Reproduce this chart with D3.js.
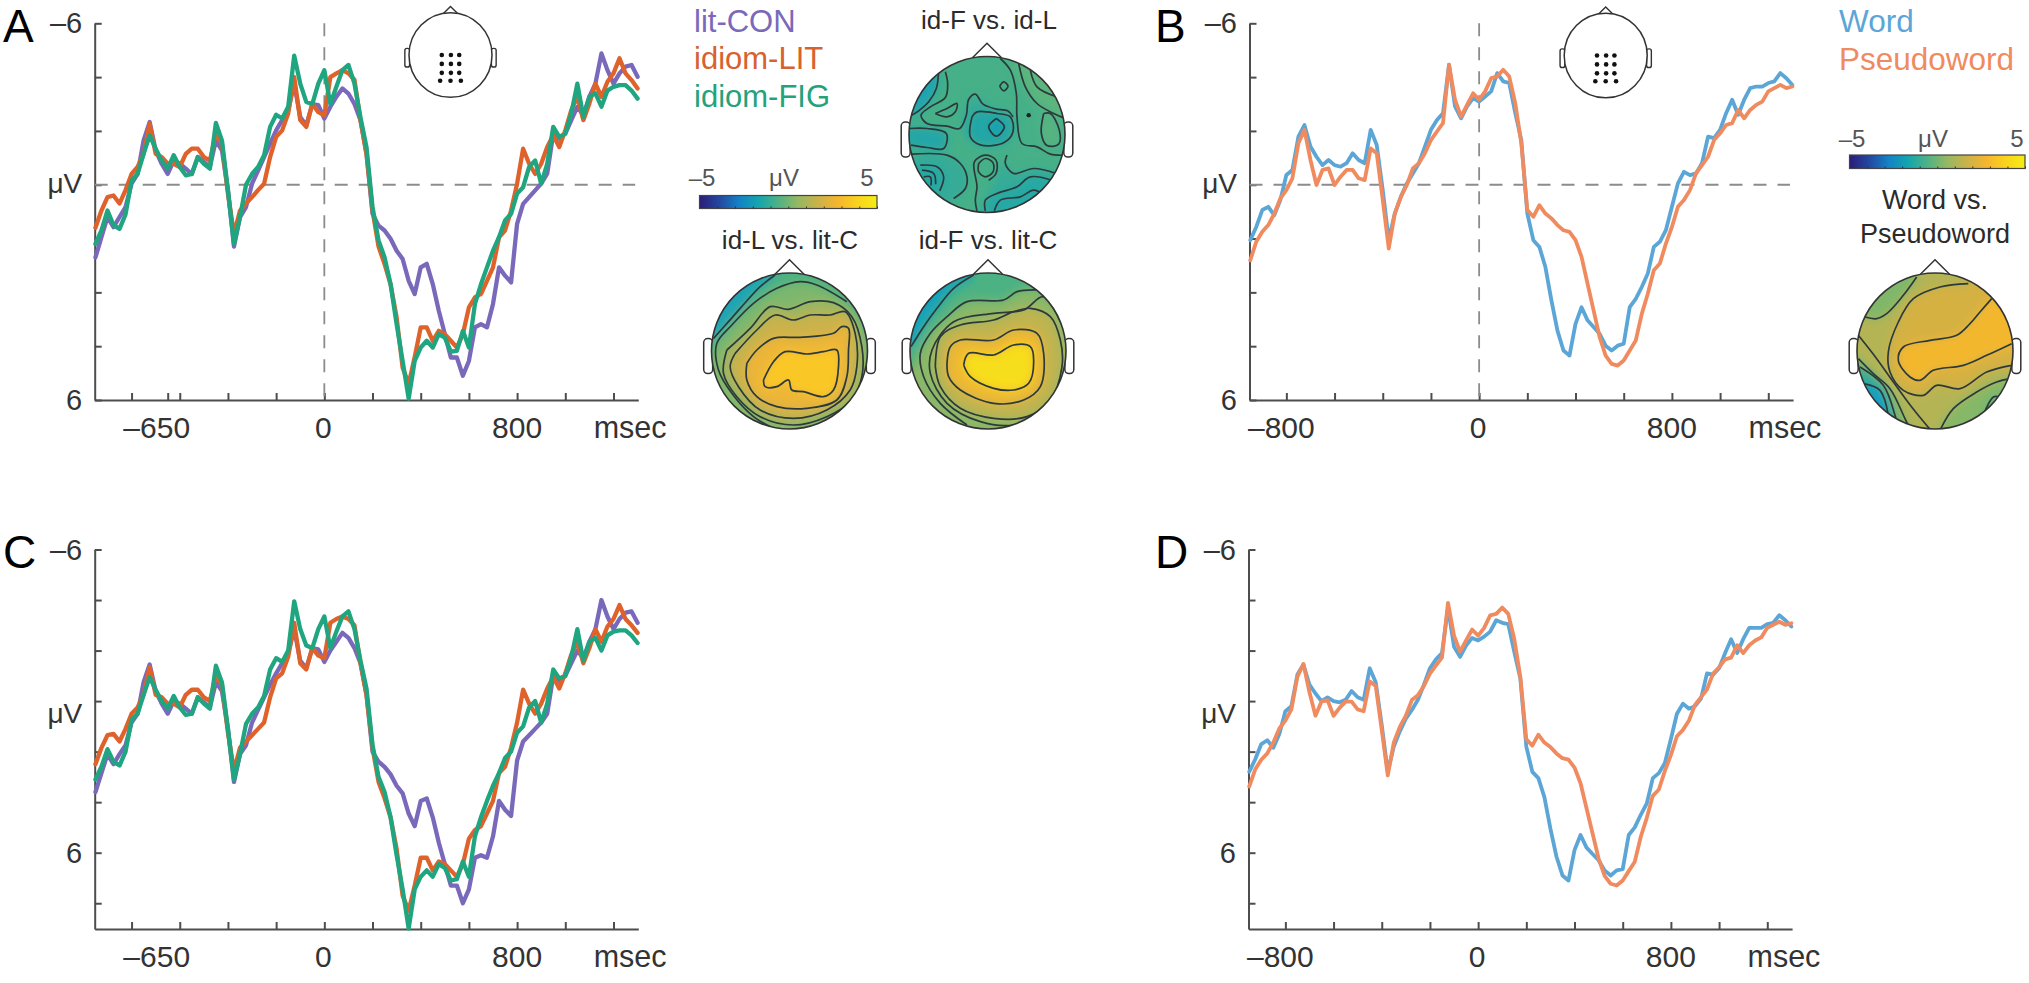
<!DOCTYPE html>
<html><head><meta charset="utf-8">
<style>html,body{margin:0;padding:0;background:#fff}svg{display:block}text{font-family:"Liberation Sans",Arial,sans-serif}</style>
<script src="https://cdn.jsdelivr.net/npm/d3@7/dist/d3.min.js"></script></head>
<body><svg id="c" width="2029" height="983"></svg>
<script>
// ---------- sampling times (msec) ----------
const times=[-950,-925,-900,-875,-850,-825,-800,-775,-750,-725,-700,-675,-650,-625,-600,-575,-550,-525,-500,-475,-450,-425,-400,-375,-350,-325,-300,-275,-250,-225,-200,-175,-150,-125,-100,-75,-50,-25,0,25,50,75,100,125,150,175,200,225,250,275,300,325,350,375,400,425,450,475,500,525,550,575,600,625,650,675,700,725,750,775,800,825,850,875,900,925,950,975,1000,1025,1050,1075,1100,1125,1150,1175,1200,1225,1250,1275,1300];
// ---------- panel A (μV) ----------
const A_litCON=[2.7,1.95,1.2,1.58,1.2,.83,-.04,-.4,-1.65,-2.33,-1.28,-.78,-.4,-.9,-.78,-.6,-.4,-1.03,-.85,-.66,-1.65,-1.28,.21,2.3,1.2,.83,-.04,-.53,-1.03,-1.53,-2.02,-2.4,-2.77,-3.76,-2.52,-2.2,-3,-2.96,-2.46,-2.9,-3.27,-3.58,-3.39,-3,-2.4,-1.15,1.08,1.52,1.7,2.01,2.45,2.76,3.57,4.06,3.07,2.94,3.69,4.68,5.55,6.42,6.42,7.1,6.55,5.3,5.18,5.3,4.43,3.07,3.38,3.63,1.45,.71,.46,.21,-.04,-.41,-1.9,-1.71,-1.9,-2.4,-2.89,-2.58,-3.27,-3.76,-4.88,-4.26,-3.76,-4.14,-4.39,-4.45,-4.01];
const A_idiomLIT=[1.6,.96,.46,.4,.7,.2,-.4,-.66,-1.15,-2.27,-1.15,-1.03,-.78,-.78,-.66,-1.15,-1.34,-1.34,-1.03,-.9,-1.9,-1.53,.33,1.83,.96,.7,.46,.2,-.04,-1.03,-1.78,-2.02,-2.65,-4,-2.4,-2.15,-3,-2.7,-2.58,-4,-4.14,-4.26,-4.14,-3.9,-2.4,-1.15,.96,2.3,2.95,3.7,4.93,6.8,7.4,6.4,5.3,5.3,5.8,5.43,5.55,5.8,6.05,5.55,4.56,4.19,4.06,3.57,3.07,1.95,1.7,.96,-.04,-1.34,-.78,-.4,-.78,-1.4,-1.84,-1.4,-2.02,-2.77,-3.27,-2.4,-3.02,-3.76,-3.27,-3.83,-4.14,-4.7,-4.14,-3.89,-3.58];
const A_idiomFIG=[2.2,1.7,.96,1.5,1.64,1.1,-.16,-.4,-1.15,-1.84,-1.34,-.9,-.6,-1.1,-.66,-.35,-.4,-1.03,-.78,-.6,-2.3,-1.65,.2,2.2,1.2,0,-.4,-.66,-1.1,-2.15,-2.6,-2.46,-2.9,-4.8,-3.76,-3.08,-3,-3.76,-4.26,-3,-3.64,-4.26,-4.45,-3.76,-2.5,-1.4,.83,2.07,2.7,3.7,5.18,6.55,7.95,6.55,6.05,5.8,6.05,5.55,5.68,6.2,6.17,5.43,6.05,4.43,3.7,3.07,2.45,1.95,1.33,1.08,.33,.09,-.66,-.9,-.04,-.78,-2.15,-1.78,-1.9,-2.65,-3.76,-2.52,-3.27,-3.4,-2.9,-3.5,-3.64,-3.7,-3.7,-3.5,-3.2];
// ---------- panel B (μV) ----------
const B_word=[2.06,1.57,.94,.82,1.13,.57,-.36,-.55,-1.79,-2.22,-1.42,-1.04,-.73,-.92,-.73,-.67,-.8,-1.17,-.92,-.8,-2.04,-1.48,.2,2.06,1.07,.45,-.05,-.42,-.8,-1.42,-2.04,-2.41,-2.66,-4.46,-2.91,-2.47,-2.91,-3.22,-3.09,-3.28,-3.47,-4.15,-3.84,-3.78,-2.66,-1.66,1.07,2.06,2.31,3.06,4.3,5.42,6.16,6.35,5.17,4.55,5.04,5.29,5.54,5.98,6.16,5.98,5.91,4.55,4.24,3.8,3.3,2.31,2.12,1.69,.82,-.05,-.48,-.36,-.42,-.8,-1.79,-1.73,-2.04,-2.66,-3.16,-2.6,-3.16,-3.59,-3.65,-3.65,-3.78,-3.84,-4.15,-3.96,-3.71];
const B_pseudoword=[2.81,2.12,1.75,1.5,1.07,.51,.2,-.24,-1.54,-2.04,-.92,.01,-.55,-.61,.01,-.3,-.55,-.55,-.24,-.17,-1.35,-1.17,.57,2.37,1.07,.45,.01,-.61,-.8,-1.17,-1.66,-1.98,-2.29,-4.46,-3.16,-2.53,-2.97,-3.4,-3.16,-3.47,-3.96,-4.02,-4.27,-4.02,-3.03,-1.54,.94,1.19,.76,1.07,1.25,1.5,1.69,1.75,2.06,2.68,3.68,4.67,5.66,6.35,6.66,6.72,6.53,6.16,5.79,4.8,4.05,3.18,2.93,2.19,1.57,.82,.57,.2,-.42,-.73,-1.04,-1.66,-1.91,-2.22,-2.29,-2.78,-2.47,-2.78,-2.97,-3.09,-3.47,-3.59,-3.71,-3.59,-3.65];
// ---------- panel C (μV) ----------
const C_litCON=[3.6,2.85,2.1,2.5,2.1,1.75,.85,.5,-.75,-1.45,-.4,.1,.5,0,.1,.3,.5,-.15,.05,.25,-.75,-.4,1.1,3.2,2.1,1.75,.85,.35,-.15,-.65,-1.1,-1.5,-1.9,-2.85,-1.6,-1.3,-2.1,-2.05,-1.55,-2,-2.35,-2.7,-2.5,-2.1,-1.5,-.25,2,2.4,2.6,2.9,3.35,3.65,4.45,4.95,3.95,3.85,4.6,5.6,6.45,7.3,7.3,8,7.45,6.2,6.1,6.2,5.35,3.95,4.3,4.55,2.35,1.6,1.35,1.1,.85,.5,-1,-.8,-1,-1.5,-2,-1.7,-2.35,-2.85,-4,-3.35,-2.85,-3.25,-3.5,-3.55,-3.1];
const C_idiomLIT=[2.5,1.85,1.35,1.3,1.6,1.1,.5,.25,-.25,-1.35,-.25,-.15,.1,.1,.25,-.25,-.45,-.45,-.15,0,-1,-.65,1.25,2.75,1.85,1.6,1.35,1.1,.85,-.15,-.9,-1.1,-1.75,-3.1,-1.5,-1.25,-2.1,-1.8,-1.7,-3.1,-3.25,-3.35,-3.25,-3,-1.5,-.25,1.85,3.2,3.85,4.6,5.85,7.7,8.3,7.3,6.2,6.2,6.7,6.35,6.45,6.7,6.95,6.45,5.45,5.1,4.95,4.45,3.95,2.85,2.6,1.85,.85,-.45,.1,.5,.1,-.5,-.95,-.5,-1.1,-1.85,-2.35,-1.5,-2.1,-2.85,-2.35,-2.95,-3.25,-3.8,-3.25,-3,-2.7];
const C_idiomFIG=[3.1,2.6,1.9,2.4,2.55,2,.75,.5,-.25,-.95,-.45,0,.3,-.2,.25,.55,.5,-.15,.1,.3,-1.4,-.75,1.1,3.1,2.1,.9,.5,.25,-.2,-1.25,-1.7,-1.55,-2,-3.95,-2.85,-2.2,-2.1,-2.85,-3.35,-2.1,-2.75,-3.35,-3.55,-2.85,-1.6,-.5,1.73,3,3.6,4.6,6.1,7.45,9,7.45,6.95,6.7,6.95,6.45,6.6,7.1,7.05,6.35,6.95,5.35,4.6,3.95,3.35,2.85,2.25,2,1.25,1,.25,0,.85,.1,-1.25,-.9,-1,-1.75,-2.85,-1.6,-2.35,-2.5,-2,-2.6,-2.75,-2.8,-2.8,-2.6,-2.3];
// ---------- panel D (μV) ----------
const D_word=[2.8,2.3,1.7,1.55,1.85,1.3,.4,.2,-1.05,-1.45,-.65,-.3,0,-.15,0,.05,-.05,-.4,-.15,-.05,-1.3,-.75,.95,2.8,1.8,1.2,.7,.35,-.05,-.65,-1.3,-1.65,-1.9,-3.7,-2.15,-1.75,-2.2,-2.5,-2.4,-2.55,-2.75,-3.2,-3.1,-3.05,-1.95,-.9,1.8,2.8,3.05,3.8,5.05,6.15,6.9,7.1,5.9,5.3,5.8,6.05,6.3,6.7,6.9,6.7,6.65,5.3,5,4.5,4.05,3.05,2.85,2.45,1.5,.5,.1,.3,.2,-.1,-1.1,-1.05,-1.3,-1.9,-2.45,-1.9,-2.45,-2.9,-2.9,-2.9,-3.05,-3.1,-3.4,-3.2,-2.95];
const D_pseudoword=[3.38,2.7,2.32,2.07,1.64,1.08,.77,.33,-.97,-1.47,-.35,.58,.02,-.04,.58,.27,.02,.02,.33,.4,-.78,-.6,1.14,2.94,1.64,1.02,.58,-.04,-.23,-.6,-1.09,-1.41,-1.72,-3.89,-2.59,-1.96,-2.4,-2.83,-2.59,-2.9,-3.39,-3.45,-3.7,-3.45,-2.46,-.97,1.51,1.76,1.33,1.64,1.82,2.07,2.26,2.32,2.63,3.25,4.25,5.24,6.23,6.92,7.23,7.3,7.1,6.73,6.36,5.37,4.62,3.75,3.5,2.76,2.14,1.39,1.14,.77,.15,-.16,-.47,-1.09,-1.34,-1.65,-1.72,-2.21,-1.9,-2.21,-2.4,-2.52,-2.9,-3.02,-3.14,-3.02,-3.08];
// ---------- ticks ----------
const xTicks=[-800,-600,-400,-200,0,200,400,600,800,1000,1200];
const yTicks=[-6,-4,-2,0,2,4,6,8];
// ---------- colours ----------
const colCON="#7a69bb",colLIT="#e0622b",colFIG="#1fa57f",colWord="#5ba6d6",colPseudo="#f08a5f";
const axisCol="#4d4d4d",textCol="#333",dashCol="#8c8c8c";
// ---------- colour bar ----------
const barStops=["#2a1d78","#24479f","#1382c6","#14a5ae","#4fb285","#95b863","#c9b24a","#f5b52e","#f9d21e","#f6ee12"];
// ---------- electrode montage (head-space, r = 1) ----------
const sensors=[[-.21,0],[.01,0],[.21,0],[-.21,.215],[.01,.215],[.21,.215],[-.21,.43],[.01,.43],[.21,.43],[-.25,.62],[0,.62],[.25,.62]];
// ---------- topographic contours, head-space units (radius 234, head centre given per map) ----------
const topFills=[
 ["#1aa3b4",[[830,225],[826,272],[800,310],[770,335],[745,350],[700,300],[780,180]]],
 ["#22a6a8",[[748,385],[800,385],[858,400],[850,445],[748,435],[700,410]]],
 ["#34ab98",[[945,290],[1000,325],[1050,335],[1065,380],[1040,430],[1000,440],[940,430],[905,385],[920,320]]],
 ["#22a6a6",[[935,350],[950,335],[1010,340],[1045,360],[1050,400],[1030,425],[960,432],[930,410]]],
 ["#18a3b2",[[1008,355],[1032,380],[1008,405],[985,380]]],
 ["#34ab98",[[760,465],[860,465],[900,490],[920,530],[915,565],[880,600],[760,640],[700,520]]],
 ["#26a8a4",[[780,495],[830,500],[850,530],[840,570],[780,590],[740,540]]],
 ["#34ab98",[[1040,470],[1035,490],[1060,520],[1120,505],[1190,520],[1260,560],[1100,700],[950,680],[975,600]]],
 ["#26a8a4",[[975,630],[975,600],[1010,580],[1070,560],[1110,530],[1180,540],[1230,600],[1100,690]]],
 ["#5cb57e",[[1060,180],[1095,260],[1130,310],[1180,340],[1230,355],[1260,200]]],
 ["#58b481",[[1150,340],[1170,340],[1195,390],[1195,430],[1160,435],[1143,400]]]
];
const topLines=[
 [[835,205],[828,265],[805,305],[775,332],[745,350]],
 [[855,215],[862,250],[855,292],[810,320],[782,345],[800,370],[860,378],[898,385],[918,345],[925,298],[945,282],[968,312],[1005,326],[1042,332],[1058,350]],
 [[935,350],[950,335],[1010,340],[1050,350],[1058,395],[1030,428],[960,434],[930,410],[935,350]],
 [[1008,355],[1032,380],[1008,408],[985,380],[1008,355]],
 [[1018,258],[1030,245],[1043,258],[1030,272],[1018,258]],
 [[825,340],[860,325],[890,310],[885,335],[860,350],[825,340]],
 [[1150,340],[1170,340],[1197,390],[1195,432],[1160,436],[1143,400],[1150,340]],
 [[1020,175],[1050,210],[1068,280],[1070,350],[1085,430],[1130,440],[1170,462],[1212,465]],
 [[1075,190],[1095,260],[1130,310],[1180,340],[1215,355]],
 [[1110,210],[1130,260],[1190,290]],
 [[748,385],[800,385],[858,400],[850,445],[800,442],[752,435]],
 [[752,462],[860,465],[900,490],[920,530],[915,565],[880,595]],
 [[780,495],[830,500],[850,530],[838,572]],
 [[785,510],[820,520],[826,552]],
 [[790,530],[810,530],[812,556]],
 [[955,490],[975,475],[998,488],[998,515],[975,530],[955,515],[955,490]],
 [[950,632],[945,600],[950,560],[942,485],[975,465],[1007,480],[1007,520],[985,540]],
 [[1040,465],[1035,490],[1060,520],[1120,505],[1188,520]],
 [[975,632],[975,600],[1010,580],[1070,560],[1110,530],[1180,542]],
 [[1002,632],[1020,600],[1080,590],[1120,570],[1152,585]]
];
const leftFills=[
 ["#1aa4b6",[[345,825],[300,860],[240,925],[205,965],[165,1010],[130,1000],[160,800]]],
 ["#7db76d",[[170,1030],[215,975],[280,910],[350,865],[420,845],[470,855],[550,900],[620,1000],[640,1200],[450,1320],[250,1290],[140,1100]]],
 ["#a3b55d",[[200,1050],[270,985],[330,920],[385,928],[450,905],[520,908],[575,950],[605,1040],[605,1130],[575,1200],[500,1240],[400,1275],[300,1250],[230,1190],[190,1120]]],
 ["#cbb24c",[[225,1060],[290,990],[345,945],[400,960],[450,945],[510,945],[555,935],[585,1000],[590,1100],[570,1170],[500,1230],[400,1255],[300,1230],[235,1160],[210,1100]]],
 ["#ecb537",[[260,1090],[290,1050],[340,1015],[420,1012],[520,1000],[545,980],[565,985],[565,1050],[560,1130],[530,1200],[440,1225],[350,1220],[290,1190],[260,1140]]],
 ["#fac826",[[310,1140],[340,1085],[375,1055],[440,1062],[490,1055],[530,1050],[535,1100],[520,1170],[490,1190],[430,1175],[395,1170],[385,1140],[350,1160],[315,1160]]]
];
const leftLines=[
 [[345,825],[300,860],[240,925],[205,965],[160,1015]],
 [[560,905],[470,855],[420,845],[350,865],[280,910],[215,975],[170,1030],[175,1110],[215,1180],[280,1250],[340,1285]],
 [[200,1050],[270,985],[330,920],[385,928],[450,905],[520,908],[575,950],[605,1040],[605,1130],[575,1200],[500,1250],[400,1275],[300,1250],[230,1190],[190,1120],[200,1050]],
 [[225,1060],[290,990],[345,945],[400,960],[450,945],[510,945],[555,935],[585,1000],[590,1100],[570,1170],[500,1230],[400,1255],[300,1230],[235,1160],[210,1100],[225,1060]],
 [[260,1090],[290,1050],[340,1015],[420,1012],[520,1000],[545,980],[565,985],[565,1050],[560,1130],[530,1200],[440,1225],[350,1220],[290,1190],[260,1140],[260,1090]],
 [[310,1140],[340,1085],[375,1055],[440,1062],[490,1055],[530,1050],[535,1100],[520,1170],[490,1190],[430,1175],[395,1170],[385,1140],[350,1160],[315,1160],[310,1140]]
];
const rightFills=[
 ["#14a2bb",[[940,825],[880,865],[830,925],[790,980],[752,1040],[720,1000],[800,780]]],
 ["#8ab868",[[770,1070],[810,1000],[860,950],[920,905],[1030,900],[1070,875],[1130,870],[1220,950],[1240,1200],[1050,1320],[850,1290],[740,1150]]],
 ["#c0b44f",[[825,1100],[840,1010],[900,975],[1000,960],[1060,935],[1110,925],[1170,950],[1200,1020],[1205,1100],[1170,1200],[1100,1250],[1000,1255],[900,1225],[840,1160]]],
 ["#eeb832",[[860,1090],[870,1040],[900,1020],[1000,1020],[1060,990],[1130,1000],[1150,1060],[1140,1160],[1090,1200],[1000,1210],[900,1170],[865,1130]]],
 ["#f7de1c",[[910,1095],[925,1060],[1000,1065],[1060,1035],[1110,1040],[1120,1080],[1105,1150],[1060,1170],[1000,1165],[930,1130]]]
];
const rightLines=[
 [[940,825],[880,865],[830,925],[790,980],[752,1040]],
 [[1130,870],[1070,875],[1030,900],[920,905],[860,950],[810,1000],[780,1060],[790,1130],[840,1210],[920,1275]],
 [[1215,1000],[1150,890],[1090,930],[1000,940],[880,965],[815,1050],[810,1120],[860,1210],[960,1265],[1060,1275],[1140,1240]],
 [[825,1100],[840,1010],[900,975],[1000,960],[1060,935],[1110,925],[1170,950],[1200,1020],[1205,1100],[1170,1200],[1100,1250],[1000,1255],[900,1225],[840,1160],[825,1100]],
 [[860,1090],[870,1040],[900,1020],[1000,1020],[1060,990],[1130,1000],[1150,1060],[1140,1160],[1090,1200],[1000,1210],[900,1170],[865,1130],[860,1090]],
 [[910,1095],[925,1060],[1000,1065],[1060,1035],[1110,1040],[1120,1080],[1105,1150],[1060,1170],[1000,1165],[930,1130],[910,1095]]
];
const wordFills=[
 ["#7fb76a",[[410,825],[370,880],[320,935],[290,950],[255,945],[200,900],[350,760]]],
 ["#d5b143",[[565,845],[480,855],[400,890],[355,960],[325,1050],[330,1110],[370,1165],[430,1180],[470,1150],[540,1160],[620,1110],[720,1085],[760,900],[640,780]]],
 ["#f3b72d",[[635,890],[600,930],[570,965],[530,1000],[450,1015],[370,1035],[355,1075],[390,1125],[420,1135],[460,1105],[550,1090],[620,1060],[720,1020],[760,900]]],
 ["#85b867",[[470,1320],[520,1220],[590,1170],[650,1140],[720,1125],[740,1300]]],
 ["#5db47b",[[600,1290],[610,1240],[640,1185],[680,1185],[700,1300]]],
 ["#7fb76a",[[220,1060],[280,1115],[330,1160],[375,1250],[400,1320],[200,1320]]],
 ["#36ad92",[[230,1095],[310,1150],[345,1240],[350,1320],[200,1320]]],
 ["#139fc0",[[250,1145],[300,1165],[325,1240],[310,1320],[200,1300]]]
];
const wordLines=[
 [[410,825],[370,880],[320,935],[290,950],[255,945]],
 [[565,845],[480,855],[400,890],[355,960],[325,1050],[330,1110],[370,1165],[430,1180],[470,1150],[540,1160],[620,1110],[695,1090]],
 [[635,890],[600,930],[570,965],[530,1000],[450,1015],[370,1035],[355,1075],[390,1125],[420,1135],[460,1105],[550,1090],[620,1060],[695,1025]],
 [[235,1000],[290,1070],[340,1140],[395,1215],[450,1282]],
 [[235,1070],[280,1115],[330,1160],[375,1250],[385,1270]],
 [[240,1095],[310,1150],[345,1240],[350,1260]],
 [[250,1145],[300,1165],[325,1240]],
 [[480,1285],[520,1220],[590,1170],[650,1140],[692,1130]],
 [[610,1240],[640,1185],[660,1185]]
];
const topDot=[[1105,345]];

const svg=d3.select("#c");
const defs=svg.append("defs");
defs.append("filter").attr("id","soft").attr("x","-30%").attr("y","-30%").attr("width","160%").attr("height","160%")
  .append("feGaussianBlur").attr("stdDeviation",5);
const grad=defs.append("linearGradient").attr("id","bar");
barStops.forEach((c,i)=>grad.append("stop").attr("offset",i/(barStops.length-1)).attr("stop-color",c));

function label(x,y,t,size,anchor,fill){
  return svg.append("text").attr("x",x).attr("y",y).attr("font-size",size)
    .attr("text-anchor",anchor||"start").attr("fill",fill||textCol).text(t);
}

function panel(o){
  const x=d3.scaleLinear().domain([-953,1303]).range([o.left,o.left+543.6]);
  const y=d3.scaleLinear().domain(o.yDomain).range([o.top,o.bottom]);
  const ax=svg.append("g").attr("transform",`translate(0,${o.bottom})`)
    .call(d3.axisBottom(x).tickValues(o.extraTick?xTicks.concat(o.extraTick):xTicks).tickSize(-7).tickSizeOuter(0).tickFormat(""));
  const ay=svg.append("g").attr("transform",`translate(${o.left},0)`)
    .call(d3.axisLeft(y).tickValues(yTicks).tickSize(-7).tickSizeOuter(0).tickFormat(""));
  [ax,ay].forEach(g=>{g.selectAll("path,line").attr("stroke",axisCol).attr("stroke-width",2);});
  if(o.dashed){
    svg.append("line").attr("x1",o.left).attr("x2",x(1290)).attr("y1",y(0)).attr("y2",y(0))
      .attr("stroke",dashCol).attr("stroke-width",1.8).attr("stroke-dasharray","13 11");
    svg.append("line").attr("x1",x(0)).attr("x2",x(0)).attr("y1",o.top).attr("y2",o.bottom)
      .attr("stroke",dashCol).attr("stroke-width",1.8).attr("stroke-dasharray","13 11");
  }
  const line=d3.line().x((d,i)=>x(times[i])).y(d=>y(d));
  o.series.forEach(s=>svg.append("path").attr("d",line(s.v)).attr("fill","none").attr("stroke",s.c)
    .attr("stroke-width",o.lw).attr("stroke-linejoin","round").attr("stroke-linecap","round"));
  // tick labels
  const r=o.left-12.5;
  label(r,o.top+10,"–6",29,"end");
  label(r,o.uvY,"μV",28,"end");
  label(r,y(o.sixAt)+10,"6",29,"end");
  const by=o.bottom+38;
  label(x(o.xLab)-o.xLabShift,by,"–"+Math.abs(o.xLab),30,"middle");
  label(x(0)-1,by,"0",30,"middle");
  label(x(800),by,"800",30,"middle");
  label(o.left+o.msec,by,"msec",30.5,"start");
  label(o.letterX,o.letterY,o.letter,46,"start","#000");
}

panel({left:94.7,top:23.3,bottom:400,yDomain:[-6,8],sixAt:8,uvY:193,dashed:true,extraTick:[-650],lw:4.3,
  xLab:-650,xLabShift:11,msec:499,letter:"A",letterX:3,letterY:42,
  series:[{v:A_litCON,c:colCON},{v:A_idiomLIT,c:colLIT},{v:A_idiomFIG,c:colFIG}]});
panel({left:1249.5,top:23.3,bottom:400,yDomain:[-6,8],sixAt:8,uvY:193,dashed:true,lw:3.8,
  xLab:-800,xLabShift:5,msec:499,letter:"B",letterX:1155,letterY:42,
  series:[{v:B_word,c:colWord},{v:B_pseudoword,c:colPseudo}]});
panel({left:94.7,top:549.5,bottom:929,yDomain:[-6,9.02],sixAt:6,uvY:723,dashed:false,lw:4.3,
  xLab:-650,xLabShift:11,msec:499,letter:"C",letterX:3,letterY:568,
  series:[{v:C_litCON,c:colCON},{v:C_idiomLIT,c:colLIT},{v:C_idiomFIG,c:colFIG}]});
panel({left:1248.5,top:549.5,bottom:929,yDomain:[-6,9.02],sixAt:6,uvY:723,dashed:false,lw:3.8,
  xLab:-800,xLabShift:5,msec:499,letter:"D",letterX:1155,letterY:568,
  series:[{v:D_word,c:colWord},{v:D_pseudoword,c:colPseudo}]});

// head outline
function head(g,cx,cy,r,sw){
  const col="#333";
  [-1,1].forEach(s=>{
    const w=.115*r,x0=s>0?cx+.985*r:cx-.985*r-w;
    g.append("rect").attr("x",x0).attr("y",cy-.16*r).attr("width",w).attr("height",.45*r)
      .attr("rx",w*.45).attr("fill","#fff").attr("stroke",col).attr("stroke-width",sw);
  });
  g.append("path").attr("d",d3.line()([[cx-.19*r,cy-.98*r],[cx,cy-1.17*r],[cx+.19*r,cy-.98*r]]))
    .attr("fill","#fff").attr("stroke",col).attr("stroke-width",sw);
}

// small montage heads
function montage(cx,cy,r){
  const g=svg.append("g");
  head(g,cx,cy,r,1.4);
  g.append("ellipse").attr("cx",cx).attr("cy",cy).attr("rx",r).attr("ry",r*1.02).attr("fill","#fff").attr("stroke","#333").attr("stroke-width",1.5);
  const sx=d3.scaleLinear().domain([-1,1]).range([cx-r,cx+r]),sy=d3.scaleLinear().domain([-1,1]).range([cy-r,cy+r]);
  g.selectAll("circle").data(sensors).join("circle").attr("cx",d=>sx(d[0])).attr("cy",d=>sy(d[1])).attr("r",2.3).attr("fill","#111");
}
montage(450.5,55,41.5);
montage(1605.7,55.5,41.5);

// topographic maps
let clipId=0;
function topo(o){
  const sx=d3.scaleLinear().domain([o.c0[0]-234,o.c0[0]+234]).range([o.cx-78,o.cx+78]);
  const sy=d3.scaleLinear().domain([o.c0[1]-234,o.c0[1]+234]).range([o.cy-78,o.cy+78]);
  const g=svg.append("g");
  head(g,o.cx,o.cy,78,1.5);
  const id="hc"+(clipId++);
  defs.append("clipPath").attr("id",id).append("circle").attr("cx",o.cx).attr("cy",o.cy).attr("r",78);
  const inner=g.append("g").attr("clip-path",`url(#${id})`);
  inner.append("circle").attr("cx",o.cx).attr("cy",o.cy).attr("r",78).attr("fill",o.base);
  const soft=inner.append("g").attr("filter","url(#soft)");
  const closed=d3.line().x(d=>sx(d[0])).y(d=>sy(d[1])).curve(d3.curveCatmullRomClosed);
  const open=d3.line().x(d=>sx(d[0])).y(d=>sy(d[1])).curve(d3.curveCatmullRom);
  o.fills.forEach(f=>soft.append("path").attr("d",closed(f[1])).attr("fill",f[0]));
  o.lines.forEach(l=>inner.append("path").attr("d",open(l)).attr("fill","none").attr("stroke","#2c3a3c").attr("stroke-width",1.7));
  (o.dots||[]).forEach(d=>inner.append("circle").attr("cx",sx(d[0])).attr("cy",sy(d[1])).attr("r",2.2).attr("fill","#1a2426"));
  g.append("circle").attr("cx",o.cx).attr("cy",o.cy).attr("r",78).attr("fill","none").attr("stroke","#333").attr("stroke-width",1.6);
}
topo({cx:987,cy:134.5,c0:[980,403],base:"#46b088",fills:topFills,lines:topLines,dots:topDot});
topo({cx:789.5,cy:351,c0:[388,1053],base:"#4cb283",fills:leftFills,lines:leftLines});
topo({cx:988,cy:351,c0:[983,1053],base:"#4cb283",fills:rightFills,lines:rightLines});
topo({cx:1935,cy:351,c0:[465,1047],base:"#b4b455",fills:wordFills,lines:wordLines});

// colour bars
function colorbar(x0,x1,y0,y1,labY,xs){
  svg.append("rect").attr("x",x0).attr("y",y0).attr("width",x1-x0).attr("height",y1-y0)
    .attr("fill","url(#bar)").attr("stroke","#444").attr("stroke-width",1.2);
  const s=d3.scaleLinear().domain([-5,5]).range([x0,x1]);
  svg.append("g").attr("transform",`translate(0,${y1})`)
    .call(d3.axisBottom(s).tickValues([-4,-3,-2,-1,0,1,2,3,4,5]).tickSize(-2).tickSizeOuter(0).tickFormat(""))
    .call(g=>g.select(".domain").remove()).selectAll("line").attr("stroke","#333");
  label(xs[0],labY,"–5",24,"middle","#555");
  label(xs[1],labY,"μV",24,"middle","#555");
  label(xs[2],labY,"5",24,"middle","#555");
}
colorbar(699.5,877,195.5,208.5,186,[702,784,867]);
colorbar(1849.5,2025,155,168.5,147,[1852,1933,2017]);

// titles
label(989,29,"id-F vs. id-L",26,"middle","#2b2b2b");
label(790,249,"id-L vs. lit-C",26,"middle","#2b2b2b");
label(988,249,"id-F vs. lit-C",26,"middle","#2b2b2b");
label(1935,209,"Word vs.",27,"middle","#2b2b2b");
label(1935,243,"Pseudoword",27,"middle","#2b2b2b");

// legends
label(694,32,"lit-CON",31,"start",colCON);
label(694,69,"idiom-LIT",31,"start","#d6622f");
label(694,107,"idiom-FIG",31,"start","#23a27c");
label(1839,32,"Word",31.5,"start",colWord);
label(1839,70,"Pseudoword",31.5,"start",colPseudo);
</script></body></html>
